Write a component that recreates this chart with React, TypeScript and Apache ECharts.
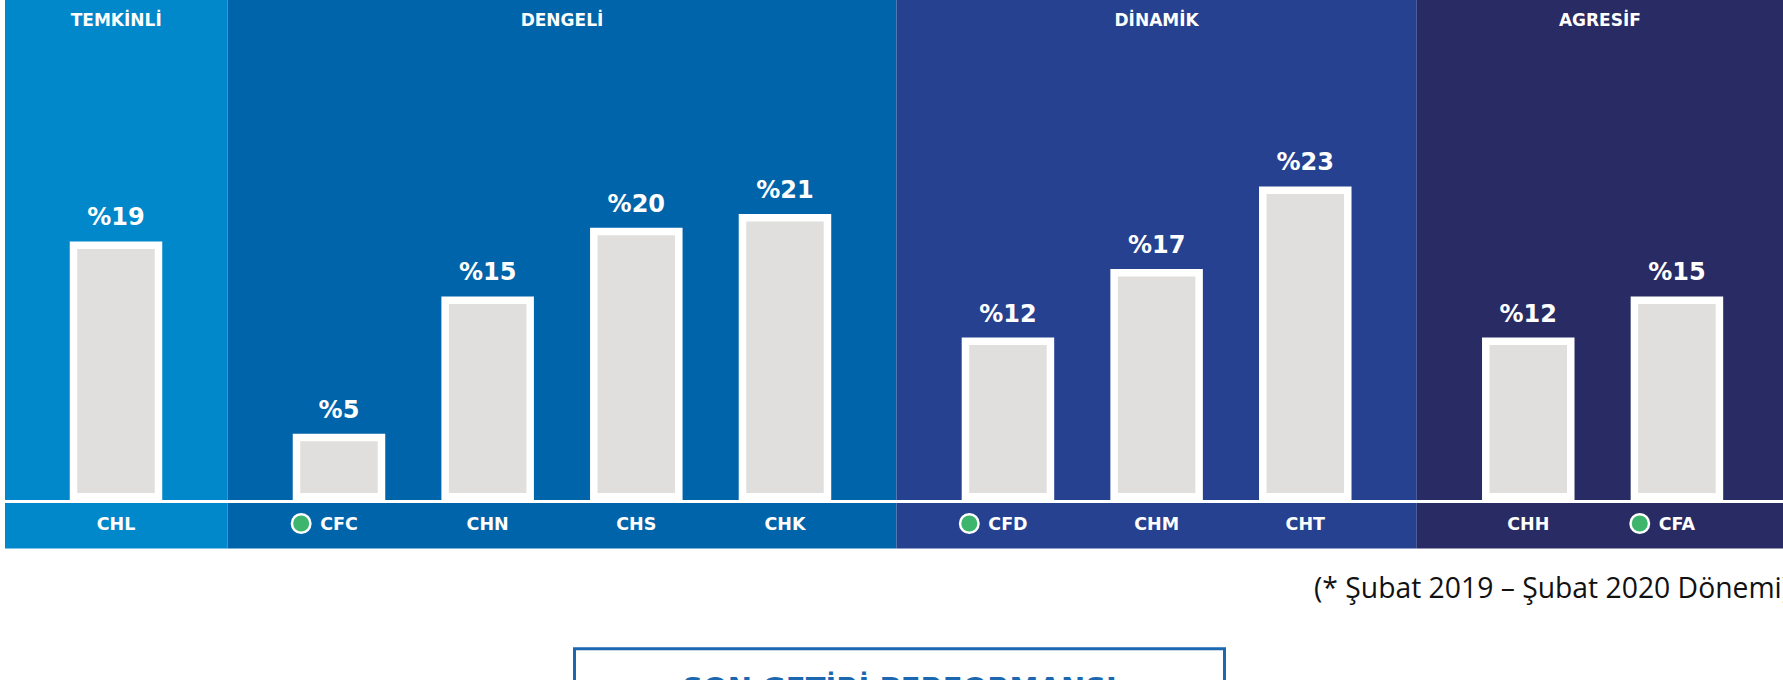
import React, { useEffect, useRef } from "react";
import * as echarts from "echarts";

// ---- Data ----
const groups = ["TEMKİNLİ", "DENGELİ", "DİNAMİK", "AGRESİF"];
const groupColors = ["#0088CB", "#0064AA", "#25418F", "#292B64"];
const funds = ["CHL", "CFC", "CHN", "CHS", "CHK", "CFD", "CHM", "CHT", "CHH", "CFA"];
const fundGroup = [0, 1, 1, 1, 1, 2, 2, 2, 3, 3];
const returns = [19, 5, 15, 20, 21, 12, 17, 23, 12, 15];
const markedFunds = ["CFC", "CFD", "CFA"];
const footnote = "(* Şubat 2019 – Şubat 2020 Dönemi)";
const boxTitle = "SON GETİRİ PERFORMANSI";

// category list with spacer slots between funds (two between groups)
const categories: string[] = [];
const fundSlot: number[] = [];
funds.forEach((f, i) => {
  if (i > 0) {
    categories.push("_" + categories.length);
    if (fundGroup[i] !== fundGroup[i - 1]) categories.push("_" + categories.length);
  }
  fundSlot.push(categories.length);
  categories.push(f);
});

const W = 1783;
const H = 680;
const BOLD = '"DejaVu Sans", sans-serif';

export default function App() {
  const ref = useRef<HTMLDivElement>(null);
  useEffect(() => {
    if (!ref.current) return;
    const chart = echarts.init(ref.current, undefined, { renderer: "svg" });
    const band = 74.33;
    const gridLeft = 116 - band / 2;
    const gridWidth = categories.length * band;
    const zeroY = 502.5;
    const yMax = 30;
    const pxPerUnit = 13.74;
    const barW = 92.5;
    const border = 7.5;

    chart.setOption({
      animation: false,
      grid: {
        left: gridLeft,
        width: gridWidth,
        top: zeroY - yMax * pxPerUnit,
        bottom: H - zeroY,
        containLabel: false,
      },
      xAxis: {
        type: "category",
        data: categories,
        boundaryGap: true,
        axisLine: { show: false },
        axisTick: { show: false },
        splitLine: { show: false },
        axisLabel: {
          interval: 0,
          margin: 11,
          color: "#ffffff",
          fontFamily: BOLD,
          fontWeight: "bold",
          fontSize: 17.5,
          lineHeight: 20,
          formatter: (val: string) => {
            if (val.startsWith("_")) return "";
            if (markedFunds.includes(val)) return `{dot|}{gap|}${val}{pad|}`;
            return val;
          },
          rich: {
            dot: {
              width: 16,
              height: 16,
              borderRadius: 8,
              backgroundColor: "#3DB56C",
              borderColor: "#ffffff",
              borderWidth: 2.5,
              verticalAlign: "middle",
            },
            gap: { width: 11 },
            pad: { width: 27 },
          },
        },
      },
      yAxis: {
        type: "value",
        min: 0,
        max: yMax,
        show: false,
        splitLine: { show: false },
      },
      series: [
        {
          type: "custom",
          data: fundSlot.map((s, i) => [s, returns[i]]),
          z: 3,
          renderItem: (params: any, api: any) => {
            const idx = api.value(0);
            const v = api.value(1);
            const top = api.coord([idx, v]);
            const base = api.coord([idx, 0]);
            const cx = top[0];
            const ty = top[1];
            const by = base[1];
            return {
              type: "group",
              children: [
                {
                  type: "rect",
                  shape: { x: cx - barW / 2, y: ty, width: barW, height: by - ty },
                  style: { fill: "#ffffff" },
                },
                {
                  type: "rect",
                  shape: {
                    x: cx - barW / 2 + border,
                    y: ty + border,
                    width: barW - 2 * border,
                    height: by - ty - border - 9.5,
                  },
                  style: { fill: "#E0DFDD" },
                },
                {
                  type: "text",
                  x: cx,
                  y: ty - 24,
                  style: {
                    text: "%" + v,
                    fill: "#ffffff",
                    fontFamily: BOLD,
                    fontWeight: "bold",
                    fontSize: 24,
                    align: "center",
                    verticalAlign: "middle",
                  },
                },
              ],
            };
          },
        },
      ],
    });

    // section layout derived from the category axis
    const centers = fundSlot.map((s) => chart.convertToPixel({ xAxisIndex: 0 }, s) as number);
    const edges: number[] = [5];
    for (let i = 1; i < funds.length; i++) {
      if (fundGroup[i] !== fundGroup[i - 1]) edges.push((centers[i - 1] + centers[i]) / 2);
    }
    edges.push(W);
    const panelBottom = 548.5;

    const graphic: any[] = [];
    groups.forEach((g, gi) => {
      graphic.push({
        type: "rect",
        z: 0,
        shape: { x: edges[gi], y: 0, width: edges[gi + 1] - edges[gi], height: panelBottom },
        style: { fill: groupColors[gi] },
      });
      graphic.push({
        type: "text",
        z: 5,
        x: (edges[gi] + edges[gi + 1]) / 2,
        y: 20,
        style: {
          text: g,
          fill: "#ffffff",
          fontFamily: BOLD,
          fontWeight: "bold",
          fontSize: 17,
          align: "center",
          verticalAlign: "middle",
        },
      });
    });
    graphic.push({
      type: "rect",
      z: 5,
      shape: { x: 5, y: 500, width: W - 5, height: 3 },
      style: { fill: "#ffffff" },
    });
    graphic.push({
      type: "text",
      z: 5,
      x: 1314,
      y: 587,
      style: {
        text: footnote,
        fill: "#111111",
        fontFamily: '"Open Sans", sans-serif',
        fontSize: 28.3,
        align: "left",
        verticalAlign: "middle",
      },
    });
    graphic.push({
      type: "rect",
      z: 5,
      shape: { x: 574.5, y: 648.8, width: 650, height: 80 },
      style: { fill: "none", stroke: "#1B67B0", lineWidth: 3 },
    });
    graphic.push({
      type: "text",
      z: 5,
      x: 899.5,
      y: 688,
      style: {
        text: boxTitle,
        fill: "#1B67B0",
        fontFamily: BOLD,
        fontWeight: "bold",
        fontSize: 29,
        align: "center",
        verticalAlign: "middle",
      },
    });
    chart.setOption({ graphic });

    return () => chart.dispose();
  }, []);

  return (
    <div
      ref={ref}
      style={{ position: "fixed", left: 0, top: 0, width: W, height: H, background: "#ffffff" }}
    />
  );
}
